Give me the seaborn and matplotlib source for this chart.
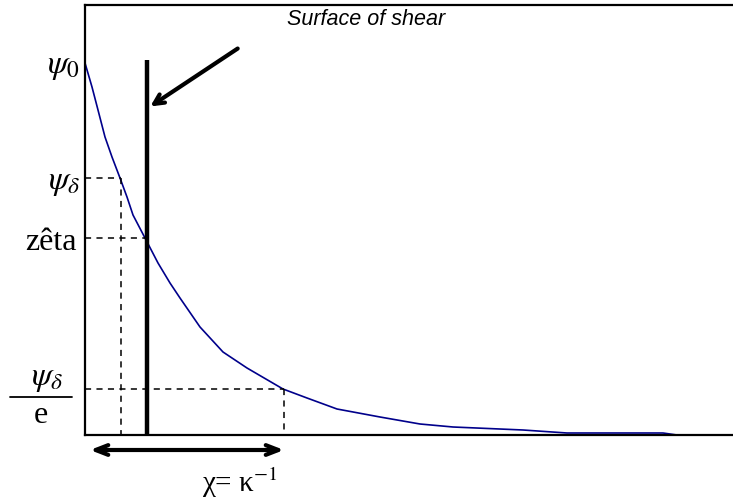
import matplotlib
matplotlib.use("Agg")
import matplotlib.pyplot as plt
import seaborn as sns
import pandas as pd

# curve (x: distance from surface, y: potential)
dist = [0, 7, 13, 20, 27, 35, 42, 48, 60, 73, 85, 95, 115, 138, 162, 198,
        222, 252, 295, 335, 368, 438, 482, 578, 592]
potential = [372, 348, 325, 298, 278, 257, 238, 220, 197, 172, 152, 137, 108, 83, 67, 46,
             37, 26, 18, 11, 8, 5, 2, 2, 0]

psi_delta = 257
zeta = 197
psi_delta_e = 46
x_delta = 36
x_shear = 62
x_debye = 199

sns.set_style("white")
plt.rcParams["mathtext.fontset"] = "stix"
plt.rcParams["font.family"] = ["Liberation Serif", "DejaVu Serif"]
plt.rcParams["text.color"] = "black"

fig = plt.figure(figsize=(7.33, 5.01), dpi=100)
ax = fig.add_axes([85 / 733, 66 / 501, 648 / 733, 430 / 501])

df = pd.DataFrame({"x": dist, "y": potential})
sns.lineplot(data=df, x="x", y="y", ax=ax, color="#00008B", lw=1.2)

ax.set_xlim(0, 648)
ax.set_ylim(0, 430)
ax.set_xticks([])
ax.set_yticks([])
ax.set_xlabel("")
ax.set_ylabel("")
for s in ["left", "top", "bottom"]:
    ax.spines[s].set_linewidth(1.6)
    ax.spines[s].set_color("black")
ax.spines["right"].set_visible(False)

dash = dict(color="black", lw=1.1, ls=(0, (4, 3.5)))
ax.plot([0, x_delta], [psi_delta, psi_delta], **dash)
ax.plot([x_delta, x_delta], [psi_delta, 0], **dash)
ax.plot([0, x_shear], [zeta, zeta], **dash)
ax.plot([0, x_debye], [psi_delta_e, psi_delta_e], **dash)
ax.plot([x_debye, x_debye], [psi_delta_e, 0], **dash)

# surface of shear
ax.plot([x_shear, x_shear], [0, 375], color="black", lw=3.2, solid_capstyle="butt")
ax.annotate("", xy=(x_shear + 1, 327), xytext=(155, 388),
            arrowprops=dict(arrowstyle="->,head_length=0.7,head_width=0.35", lw=3, color="black"))
ax.text(287 - 85, 415, "Surface of shear", fontsize=15.5, style="italic",
        family=["Liberation Sans", "DejaVu Sans"], ha="left", va="center")

# double arrow below axis
ax.annotate("", xy=(5, -15), xytext=(x_debye, -15), annotation_clip=False,
            arrowprops=dict(arrowstyle="<->,head_length=0.9,head_width=0.35", lw=3, color="black",
                            shrinkA=0, shrinkB=0))
ax.text(155, -57, r"χ= κ$^{-1}$", fontsize=21, ha="center", va="baseline", clip_on=False)

# potential labels
ax.text(-5, 368, r"$\psi_{\mathit{0}}$", fontsize=24, ha="right", va="center")
ax.text(-5, 252, r"$\psi_{\delta}$", fontsize=24, ha="right", va="center")
ax.text(-8, 185, "zêta", fontsize=23, ha="right", va="baseline")
ax.text(-38, 56, r"$\psi_{\delta}$", fontsize=24, ha="center", va="center")
ax.plot([-75, -13], [38, 38], color="black", lw=1.3, clip_on=False)
ax.text(-44, 12, "e", fontsize=23, ha="center", va="baseline")

fig.savefig("out.png", dpi=100)
